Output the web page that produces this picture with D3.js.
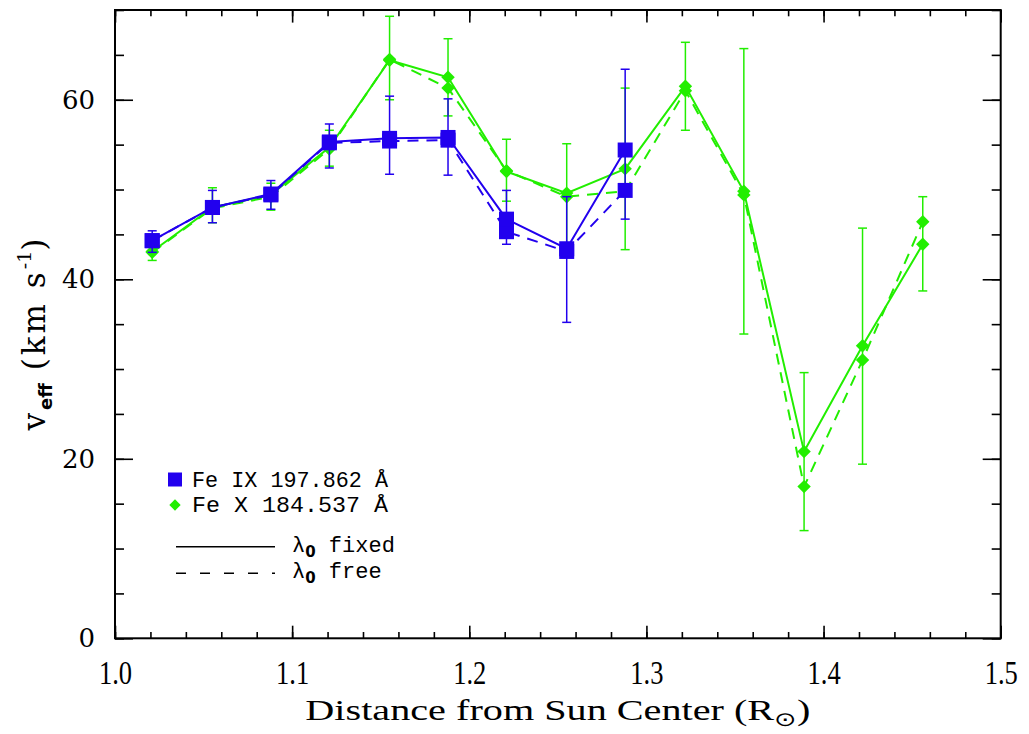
<!DOCTYPE html>
<html>
<head>
<meta charset="utf-8">
<script src="https://cdn.jsdelivr.net/npm/d3@7"></script>
<style>
  body { margin: 0; background: #fff; }
  svg text { fill: #000; }
</style>
</head>
<body>
<svg id="chart" width="1029" height="734"></svg>
<script>
// distances (R_sun)
const dist = [1.021, 1.055, 1.088, 1.121, 1.155, 1.188, 1.221, 1.255, 1.288, 1.322, 1.355, 1.389, 1.422, 1.456];

// Fe IX 197.862 (first 9 positions)
const fe9Fixed = [44.3, 48.0, 49.5, 55.3, 55.7, 55.8, 46.7, 43.4, 54.4];
const fe9Free  = [44.3, 48.0, 49.4, 55.2, 55.4, 55.5, 45.3, 43.1, 49.9];
const fe9Lo    = [43.0, 46.3, 47.8, 52.4, 51.7, 51.6, 43.9, 35.2, 46.7];
const fe9Hi    = [45.4, 49.9, 51.0, 57.3, 60.4, 60.1, 49.9, 49.2, 63.4];

// Fe X 184.537
const fe10Fixed = [43.1, 48.0, 49.4, 54.7, 64.4, 62.5, 52.0, 49.6, 52.3, 61.5, 49.8, 20.8, 32.6, 43.9];
const fe10Free  = [43.0, 47.9, 49.2, 54.5, 64.5, 61.3, 52.1, 49.2, 49.8, 61.0, 49.4, 16.9, 31.0, 46.4];
const fe10Lo    = [42.1, 46.3, 47.7, 52.6, 60.0, 58.2, 48.7, 44.0, 43.3, 56.6, 33.9, 12.0, 19.4, 38.7];
const fe10Hi    = [44.1, 50.2, 50.7, 56.6, 69.3, 66.8, 55.6, 55.1, 61.3, 66.4, 65.7, 29.6, 45.7, 49.2];

const xTicks = [1.0, 1.1, 1.2, 1.3, 1.4, 1.5];
const yTicks = [0, 20, 40, 60];

const blue = "#2200ee";
const green = "#22ee00";

const svg = d3.select("#chart");
const plotL = 115, plotR = 1000.7, plotT = 10, plotB = 638.3;

const x = d3.scaleLinear().domain([1.0, 1.5]).range([plotL, plotR]);
const y = d3.scaleLinear().domain([0, 70]).range([plotB, plotT]);

const xMinor = d3.range(1.0, 1.5001, 0.02).map(v => +v.toFixed(2));
const yMinor = d3.range(0, 70.001, 5);

function styleAxis(g) {
  g.select(".domain").remove();
  g.selectAll(".tick line").attr("stroke", "#000").attr("stroke-width", 1.6);
}

// bottom
svg.append("g").attr("transform", `translate(0,${plotB})`)
  .call(d3.axisBottom(x).tickValues(xMinor).tickSize(-6.3).tickFormat(""))
  .call(styleAxis);
svg.append("g").attr("transform", `translate(0,${plotB})`)
  .call(d3.axisBottom(x).tickValues(xTicks).tickSize(-12.6).tickPadding(21).tickFormat(d3.format(".1f")))
  .call(styleAxis)
  .call(g => g.selectAll("text").attr("font-family", "Liberation Serif").attr("font-size", 34)
    .attr("dy", "0.72em").attr("transform", "scale(0.78,1)"));
// top
svg.append("g").attr("transform", `translate(0,${plotT})`)
  .call(d3.axisTop(x).tickValues(xMinor).tickSize(-6.3).tickFormat(""))
  .call(styleAxis);
svg.append("g").attr("transform", `translate(0,${plotT})`)
  .call(d3.axisTop(x).tickValues(xTicks).tickSize(-12.6).tickFormat(""))
  .call(styleAxis);
// left
svg.append("g").attr("transform", `translate(${plotL},0)`)
  .call(d3.axisLeft(y).tickValues(yMinor).tickSize(-9).tickFormat(""))
  .call(styleAxis);
svg.append("g").attr("transform", `translate(${plotL},0)`)
  .call(d3.axisLeft(y).tickValues(yTicks).tickSize(-18).tickPadding(20).tickFormat(d3.format("d")))
  .call(styleAxis)
  .call(g => g.selectAll("text").attr("font-family", "DejaVu Serif").attr("font-size", 26));
// right
svg.append("g").attr("transform", `translate(${plotR},0)`)
  .call(d3.axisRight(y).tickValues(yMinor).tickSize(-9).tickFormat(""))
  .call(styleAxis);
svg.append("g").attr("transform", `translate(${plotR},0)`)
  .call(d3.axisRight(y).tickValues(yTicks).tickSize(-18).tickFormat(""))
  .call(styleAxis);

svg.append("rect")
  .attr("x", plotL).attr("y", plotT)
  .attr("width", plotR - plotL).attr("height", plotB - plotT)
  .attr("fill", "none").attr("stroke", "#000").attr("stroke-width", 2);

// series
const line = d3.line().x(d => x(d[0])).y(d => y(d[1]));

// square symbol; diamonds are the same square turned 45 degrees
function marker(size) {
  return d3.symbol().type(d3.symbolSquare).size(size)();
}

function drawSeries(vFixed, vFree, lo, hi, color, shape) {
  const g = svg.append("g");
  const pts = vals => vals.map((v, i) => [dist[i], v]);

  g.append("path").datum(pts(vFree)).attr("d", line)
    .attr("fill", "none").attr("stroke", color).attr("stroke-width", 2)
    .attr("stroke-dasharray", "11,8");
  g.append("path").datum(pts(vFixed)).attr("d", line)
    .attr("fill", "none").attr("stroke", color).attr("stroke-width", 2);

  const eb = g.selectAll(".eb").data(lo.map((l, i) => ({ x: dist[i], lo: l, hi: hi[i] })))
    .join("g").attr("class", "eb").attr("stroke", color).attr("stroke-width", 1.5);
  eb.append("line").attr("x1", d => x(d.x)).attr("x2", d => x(d.x))
    .attr("y1", d => y(d.lo)).attr("y2", d => y(d.hi));
  eb.append("line").attr("x1", d => x(d.x) - 4.5).attr("x2", d => x(d.x) + 4.5)
    .attr("y1", d => y(d.lo)).attr("y2", d => y(d.lo));
  eb.append("line").attr("x1", d => x(d.x) - 4.5).attr("x2", d => x(d.x) + 4.5)
    .attr("y1", d => y(d.hi)).attr("y2", d => y(d.hi));

  const size = shape === "square" ? 225 : 90;
  [vFree, vFixed].forEach(vals => {
    g.selectAll(null).data(pts(vals)).join("path")
      .attr("d", marker(size))
      .attr("transform", d => `translate(${x(d[0])},${y(d[1])})` + (shape === "square" ? "" : " rotate(45)"))
      .attr("fill", color);
  });
}

drawSeries(fe10Fixed, fe10Free, fe10Lo, fe10Hi, green, "diamond");
drawSeries(fe9Fixed, fe9Free, fe9Lo, fe9Hi, blue, "square");

// axis titles
svg.append("text")
  .attr("x", (plotL + plotR) / 2).attr("y", 720)
  .attr("text-anchor", "middle")
  .attr("font-family", "Liberation Serif").attr("font-size", 30)
  .attr("textLength", 505).attr("lengthAdjust", "spacingAndGlyphs")
  .html('Distance from Sun Center (R<tspan font-size="20" dy="6">⊙</tspan><tspan dy="-6">)</tspan>');

svg.append("text")
  .attr("transform", "translate(45,333) rotate(-90)")
  .attr("text-anchor", "middle")
  .attr("font-family", "DejaVu Serif").attr("font-size", 31)
  .attr("letter-spacing", 3)
  .html('v<tspan font-size="18" dy="7" font-family="DejaVu Sans" font-weight="bold" letter-spacing="0">eff</tspan><tspan dy="-7"> (km s</tspan><tspan font-size="19" dy="-14" letter-spacing="0">-1</tspan><tspan dy="14">)</tspan>');

// legend
const legendSeries = [
  { label: "Fe IX 197.862 Å", color: blue, shape: "square", yy: 479.5 },
  { label: "Fe X 184.537 Å", color: green, shape: "diamond", yy: 505 }
];
legendSeries.forEach(s => {
  svg.append("path").attr("d", marker(s.shape === "square" ? 196 : 64))
    .attr("transform", `translate(175,${s.yy})` + (s.shape === "square" ? "" : " rotate(45)"))
    .attr("fill", s.color);
  svg.append("text").attr("x", 192).attr("y", s.yy + 7)
    .attr("font-family", "Liberation Mono").attr("font-size", 22)
    .attr("textLength", 196).attr("lengthAdjust", "spacingAndGlyphs")
    .text(s.label);
});
const legendLines = [
  { label: "fixed", dash: null, yy: 546.7 },
  { label: "free", dash: "10,14", yy: 573.3 }
];
legendLines.forEach(s => {
  svg.append("line").attr("x1", 176).attr("x2", 275).attr("y1", s.yy).attr("y2", s.yy)
    .attr("stroke", "#000").attr("stroke-width", 1.6)
    .attr("stroke-dasharray", s.dash);
  svg.append("text").attr("x", 292).attr("y", s.yy + 5)
    .attr("font-family", "Liberation Mono").attr("font-size", 22)
    .html(`λ<tspan font-size="15" dy="5" font-family="DejaVu Sans" font-weight="bold">0</tspan><tspan dy="-5"> ${s.label}</tspan>`);
});
</script>
</body>
</html>
